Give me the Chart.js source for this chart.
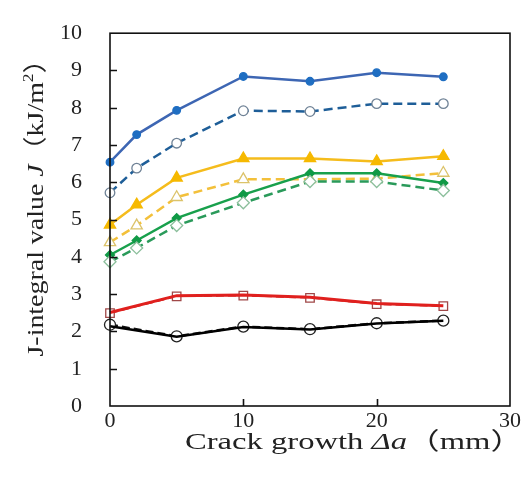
<!DOCTYPE html>
<html>
<head>
<meta charset="utf-8">
<script src="https://cdn.jsdelivr.net/npm/chart.js@4"></script>
<style>
  html, body { margin: 0; padding: 0; background: #fff; }
  #wrap { width: 529px; height: 482px; }
</style>
</head>
<body>
<div id="wrap"><canvas id="jChart" width="529" height="482"></canvas></div>
<script>
// crack growth positions (mm)
const growthA = [0, 2, 5, 10, 15, 20, 25];
const growthB = [0, 5, 10, 15, 20, 25];

// J-integral values (kJ/m2)
const blueSolid = [6.54, 7.28, 7.93, 8.84, 8.71, 8.94, 8.83];
const blueDashed = [5.72, 6.38, 7.05, 7.92, 7.90, 8.11, 8.11];
const yellowSolid = [4.86, 5.40, 6.12, 6.64, 6.64, 6.56, 6.70];
const yellowDashed = [4.39, 4.84, 5.60, 6.08, 6.08, 6.10, 6.25];
const greenSolid = [4.05, 4.44, 5.04, 5.67, 6.24, 6.24, 5.98];
const greenDashed = [3.87, 4.24, 4.84, 5.45, 6.02, 6.02, 5.78];
const redSolid = [2.51, 2.96, 2.98, 2.92, 2.75, 2.69];
const redDashed = [2.49, 2.94, 2.96, 2.90, 2.73, 2.68];
const blackSolid = [2.14, 1.86, 2.12, 2.05, 2.21, 2.29];
const blackDashed = [2.18, 1.87, 2.13, 2.06, 2.22, 2.29];

const yTicks = [0, 1, 2, 3, 4, 5, 6, 7, 8, 9, 10];
const xTicks = [0, 10, 20, 30];

const serif = "'Liberation Serif', 'Times New Roman', 'Noto Sans CJK JP', serif";

function pts(xs, ys) {
  return xs.map((x, i) => ({ x: x, y: ys[i] }));
}

function series(xs, ys, o) {
  return Object.assign({
    data: pts(xs, ys),
    borderWidth: 2.5,
    pointBorderWidth: 1.3,
    clip: false,
    tension: 0
  }, o);
}

const datasets = [
  series(growthB, blackSolid, { borderColor: "#000", pointRadius: 0 }),
  series(growthB, blackDashed, { borderColor: "#111", borderDash: [8, 4], pointStyle: "circle", pointRadius: 5.5, pointBackgroundColor: "#fff", pointBorderColor: "#222" }),
  series(growthB, redSolid, { borderColor: "#e0201e", pointRadius: 0, borderWidth: 3 }),
  series(growthB, redDashed, { borderColor: "#c01818", borderDash: [8, 4], borderWidth: 1.5, pointStyle: "rect", pointRadius: 6, pointBackgroundColor: "#fff", pointBorderColor: "#a04848" }),
  series(growthA, greenDashed, { borderColor: "#2a9a5a", borderDash: [9, 5], pointStyle: "rectRot", pointRadius: 6, pointBackgroundColor: "#fff", pointBorderColor: "#8cbf9c" }),
  series(growthA, greenSolid, { borderColor: "#18a04c", pointStyle: "rectRot", pointRadius: 4.5, pointBackgroundColor: "#109a46", pointBorderColor: "#109a46" }),
  series(growthA, yellowDashed, { borderColor: "#f3c03a", borderDash: [9, 5], pointStyle: "triangle", pointRadius: 6.5, pointBackgroundColor: "#fff", pointBorderColor: "#dcc36a" }),
  series(growthA, yellowSolid, { borderColor: "#f5bc1c", pointStyle: "triangle", pointRadius: 6.5, pointBackgroundColor: "#f6b900", pointBorderColor: "#f6b900" }),
  series(growthA, blueDashed, { borderColor: "#1e5e98", borderDash: [9, 5], pointStyle: "circle", pointRadius: 4.8, pointBackgroundColor: "#fff", pointBorderColor: "#6f8296" }),
  series(growthA, blueSolid, { borderColor: "#3d66b3", pointStyle: "circle", pointRadius: 3.8, pointBackgroundColor: "#1f6ec2", pointBorderColor: "#1f6ec2" })
];

// draws the frame, inward tick marks and the mixed-style axis titles
const framePlugin = {
  id: "frame",
  afterDraw(chart) {
    const ctx = chart.ctx;
    const a = chart.chartArea;
    const xs = chart.scales.x, ys = chart.scales.y;
    ctx.save();
    ctx.strokeStyle = "#111";
    ctx.lineWidth = 1.6;
    ctx.strokeRect(a.left, a.top, a.right - a.left, a.bottom - a.top);
    ctx.beginPath();
    yTicks.slice(1, -1).forEach(v => {
      const y = Math.round(ys.getPixelForValue(v)) + 0.5;
      ctx.moveTo(a.left, y);
      ctx.lineTo(a.left + 7, y);
    });
    xTicks.slice(1, -1).forEach(v => {
      const x = Math.round(xs.getPixelForValue(v)) + 0.5;
      ctx.moveTo(x, a.bottom);
      ctx.lineTo(x, a.bottom - 7);
    });
    ctx.stroke();

    ctx.fillStyle = "#222";
    ctx.textBaseline = "alphabetic";
    // x title
    drawRuns(ctx, [
      { t: "Crack growth ", f: "24px " + serif },
      { t: "\u0394a", f: "italic 24px " + serif },
      { t: "\uFF08mm\uFF09", f: "24px " + serif }
    ], 354, 449, 0, 338);
    // y title
    drawRuns(ctx, [
      { t: "J-integral value ", f: "24px " + serif },
      { t: "J", f: "italic 24px " + serif },
      { t: "\uFF08kJ/m", f: "24px " + serif },
      { t: "2", f: "15px " + serif, dy: -10 },
      { t: "\uFF09", f: "24px " + serif }
    ], 43, 201, -Math.PI / 2, 311);
    ctx.restore();
  }
};

function drawRuns(ctx, runs, cx, cy, rot, target) {
  let w = 0;
  runs.forEach(r => { ctx.font = r.f; r.w = ctx.measureText(r.t).width; w += r.w; });
  const sx = target / w;
  ctx.save();
  ctx.translate(cx, cy);
  ctx.rotate(rot);
  ctx.scale(sx, 1);
  let x = -w / 2;
  runs.forEach(r => {
    ctx.font = r.f;
    ctx.fillText(r.t, x, r.dy || 0);
    x += r.w;
  });
  ctx.restore();
}

new Chart(document.getElementById("jChart"), {
  type: "line",
  data: { datasets: datasets },
  options: {
    responsive: false,
    animation: false,
    devicePixelRatio: 1,
    layout: { padding: { left: 0, top: 21, right: 19, bottom: 0 } },
    plugins: { legend: { display: false }, tooltip: { enabled: false } },
    scales: {
      x: {
        type: "linear",
        min: 0, max: 30,
        afterBuildTicks: s => { s.ticks = xTicks.map(v => ({ value: v })); },
        afterFit: s => { s.height = 76; },
        grid: { display: false },
        border: { display: false },
        ticks: { color: "#222", font: { family: serif, size: 22 }, padding: -6, maxRotation: 0 }
      },
      y: {
        type: "linear",
        min: 0, max: 10,
        afterBuildTicks: s => { s.ticks = yTicks.map(v => ({ value: v })); },
        afterFit: s => { s.width = 110; },
        grid: { display: false },
        border: { display: false },
        ticks: { color: "#222", font: { family: serif, size: 22 }, padding: 20 }
      }
    }
  },
  plugins: [framePlugin]
});
</script>
</body>
</html>
